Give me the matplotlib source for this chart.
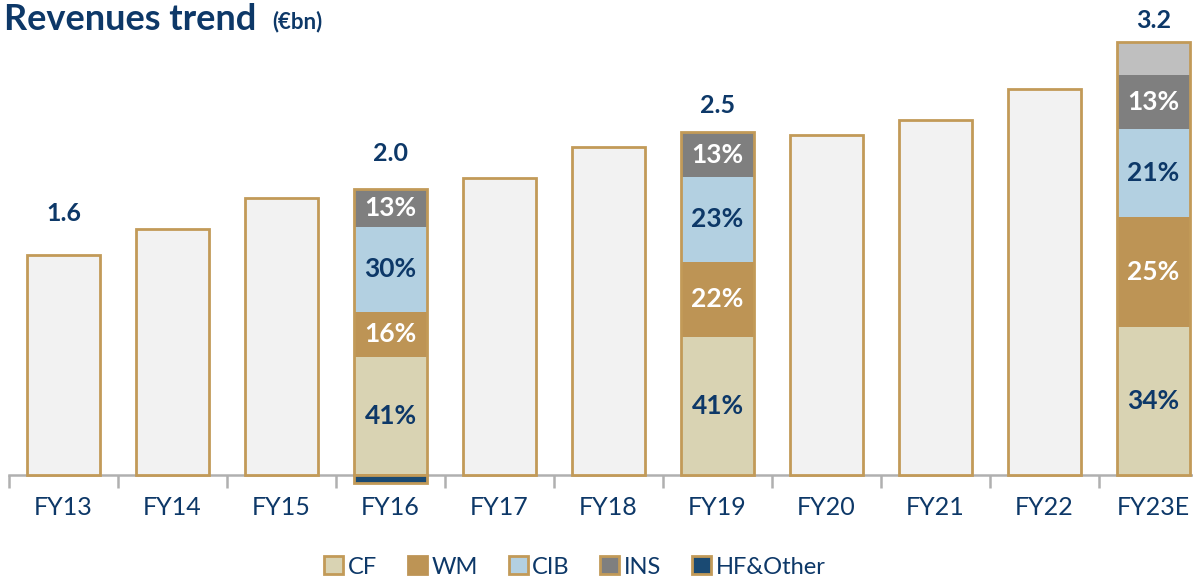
import matplotlib
matplotlib.use("Agg")
import matplotlib.pyplot as plt
from matplotlib.patches import Patch

plt.rcParams['font.family'] = ['Lato', 'DejaVu Sans']

years = ["FY13", "FY14", "FY15", "FY16", "FY17", "FY18", "FY19",
         "FY20", "FY21", "FY22", "FY23E"]
totals = [1.60, 1.79, 2.01, 2.08, 2.16, 2.38, 2.49, 2.47, 2.58, 2.80, 3.14]

# breakdown (in EUR bn) for the split years
split_idx = [3, 6, 10]
cf = [0.855, 1.004, 1.077]
wm = [0.331, 0.545, 0.794]
cib = [0.617, 0.613, 0.641]
ins = [0.274, 0.327, 0.392]
hf = [-0.058, 0.0, 0.0]
other = [0.0, 0.0, 0.237]
pct_labels = [["41%", "16%", "30%", "13%"],
              ["41%", "22%", "23%", "13%"],
              ["34%", "25%", "21%", "13%"]]
total_labels = {0: "1.6", 3: "2.0", 6: "2.5", 10: "3.2"}

navy = "#0D3868"
tan = "#C29A58"
c_cf = "#D9D3B3"
c_wm = "#BD9455"
c_cib = "#B3D0E1"
c_ins = "#7F7F7F"
c_hf = "#1A4A73"
c_oth = "#BFBFBF"
c_empty = "#F2F2F2"

fig = plt.figure(figsize=(11.93, 5.79), dpi=100)
px = 1 / 579
scale = 137.7  # pixels per EUR bn
bot = 0.08
ax = fig.add_axes([9 / 1193, bot, 1199 / 1193, 1 - bot])
ax_h = 579 * (1 - bot)
ymin = -(ax_h - 475) / scale
ax.set_ylim(ymin, ymin + ax_h / scale)
x = list(range(len(years)))
ax.set_xlim(-0.5, len(years) - 0.5)
w = 0.67

for i, t in enumerate(totals):
    if i in split_idx:
        continue
    ax.bar(i, t, width=w, color=c_empty, edgecolor=tan, linewidth=2, zorder=2)

for k, i in enumerate(split_idx):
    segs = [(cf[k], c_cf, navy), (wm[k], c_wm, "white"),
            (cib[k], c_cib, navy), (ins[k], c_ins, "white"),
            (other[k], c_oth, None)]
    bottom = 0
    for j, (v, col, tcol) in enumerate(segs):
        if v <= 0:
            continue
        ax.bar(i, v, width=w, bottom=bottom, color=col, edgecolor="none", zorder=2)
        if j < 4:
            ax.text(i, bottom + v / 2, pct_labels[k][j], ha="center", va="center",
                    color=tcol, fontsize=19, fontweight="bold", zorder=4)
        bottom += v
    ax.bar(i, bottom, width=w, color="none", edgecolor=tan, linewidth=2, zorder=3)
    if hf[k] < 0:
        ax.bar(i, hf[k], width=w, color=c_hf, edgecolor=tan, linewidth=2, zorder=3)

# total labels sit at slightly different heights above each bar
label_gap = {0: 0.30, 3: 0.255, 6: 0.195, 10: 0.16}
for i, lab in total_labels.items():
    ax.text(i, totals[i] + label_gap[i], lab, ha="center", va="center", color=navy,
            fontsize=18, fontweight="bold")

for s in ["top", "right", "left"]:
    ax.spines[s].set_visible(False)
ax.spines["bottom"].set_position(("data", 0))
ax.spines["bottom"].set_color("#B0B0B0")
ax.spines["bottom"].set_linewidth(1.8)
ax.spines["bottom"].set_zorder(1)
ax.set_yticks([])
ax.set_xticks(x)
ax.set_xticklabels(years, color=navy, fontsize=18)
ax.set_xticks([i - 0.5 for i in range(len(years) + 1)], minor=True)
ax.tick_params(axis="x", which="major", length=0, pad=15)
ax.tick_params(axis="x", which="minor", length=9, width=1.8, color="#B0B0B0")

fig.text(4 / 1193, 1 - 19 * px, "Revenues trend", color=navy, fontsize=26,
         fontweight="bold", va="center", ha="left")
fig.text(272 / 1193, 1 - 22 * px, "(€bn)", color=navy, fontsize=16,
         fontweight="bold", va="center", ha="left")

handles = [Patch(facecolor=c_cf, edgecolor=tan, linewidth=2, label="CF"),
           Patch(facecolor=c_wm, edgecolor=c_wm, linewidth=2, label="WM"),
           Patch(facecolor=c_cib, edgecolor=tan, linewidth=2, label="CIB"),
           Patch(facecolor=c_ins, edgecolor=tan, linewidth=2, label="INS"),
           Patch(facecolor=c_hf, edgecolor=tan, linewidth=2, label="HF&Other")]
leg = fig.legend(handles=handles, loc="center", bbox_to_anchor=(575 / 1193, 1 - 567 * px),
                 ncol=5, frameon=False, fontsize=17, handlelength=0.8,
                 handleheight=0.8, handletextpad=0.2, columnspacing=1.3)
for t in leg.get_texts():
    t.set_color(navy)

fig.savefig("out.png", dpi=100)
